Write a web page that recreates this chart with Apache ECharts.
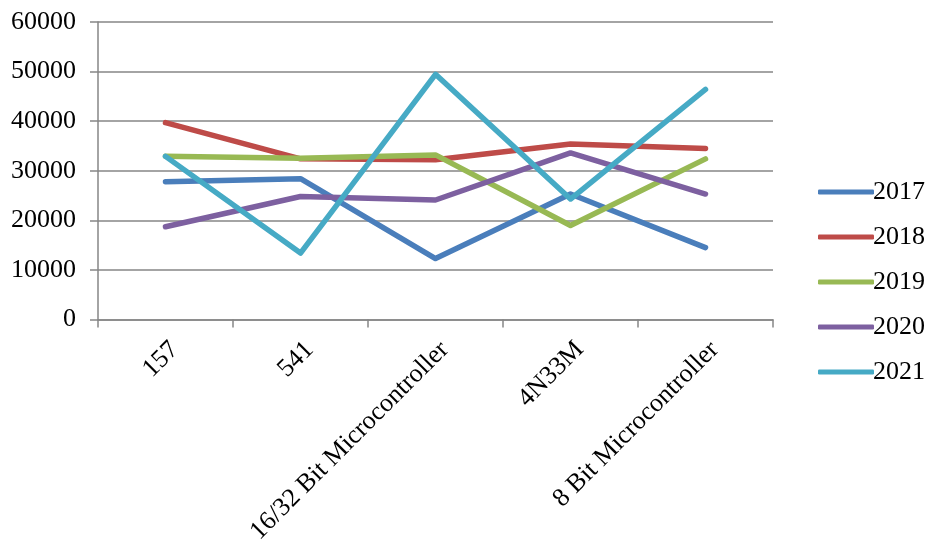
<!DOCTYPE html>
<html>
<head>
<meta charset="utf-8">
<script src="https://cdn.jsdelivr.net/npm/echarts@6/dist/echarts.min.js"></script>
<style>
  html, body { margin: 0; padding: 0; background: #fff; }
  #chart { width: 929px; height: 547px; }
</style>
</head>
<body>
<div id="chart"></div>
<script>
// Product categories along the x axis
const categories = ['157', '541', '16/32 Bit Microcontroller', '4N33M', '8 Bit Microcontroller'];

// Yearly values per category
const years = ['2017', '2018', '2019', '2020', '2021'];
const values2017 = [27800, 28400, 12300, 25300, 14500];
const values2018 = [39700, 32400, 32200, 35400, 34500];
const values2019 = [32900, 32500, 33200, 18950, 32400];
const values2020 = [18700, 24800, 24100, 33600, 25300];
const values2021 = [32900, 13400, 49450, 24300, 46400];

const seriesValues = [values2017, values2018, values2019, values2020, values2021];
const colors = ['#4A7EBB', '#BE4B48', '#98B954', '#7D60A0', '#46AAC5'];

const font = '"Liberation Serif", "Times New Roman", serif';
const fontSize = 26;
const axisGrey = '#868686';

const chart = echarts.init(document.getElementById('chart'), null, { renderer: 'canvas' });

chart.setOption({
  animation: false,
  backgroundColor: '#ffffff',
  color: colors,
  grid: { left: 98, right: 156, top: 22, bottom: 227.5, containLabel: false },
  legend: {
    orient: 'vertical',
    left: 813,
    top: 174,
    icon: 'roundRect',
    itemWidth: 56,
    itemHeight: 5,
    itemGap: 19,
    data: years,
    textStyle: { fontFamily: font, fontSize: fontSize, color: '#000', padding: [0, 0, 0, -6] }
  },
  xAxis: {
    type: 'category',
    data: categories,
    boundaryGap: true,
    axisLine: { lineStyle: { color: axisGrey, width: 1.5 } },
    axisTick: { show: true, length: 8, alignWithLabel: false, lineStyle: { color: axisGrey, width: 1.5 } },
    axisLabel: {
      interval: 0,
      rotate: 45,
      margin: 17,
      verticalAlign: 'top',
      fontFamily: font,
      fontSize: fontSize,
      color: '#000'
    },
    splitLine: { show: false }
  },
  yAxis: {
    type: 'value',
    min: 0,
    max: 60000,
    interval: 10000,
    axisLine: { show: true, lineStyle: { color: axisGrey, width: 1.5 } },
    axisTick: { show: true, length: 8, lineStyle: { color: axisGrey, width: 1.5 } },
    axisLabel: {
      margin: 22,
      fontFamily: font,
      fontSize: fontSize,
      color: '#000',
      formatter: (v) => String(v)
    },
    splitLine: { show: true, lineStyle: { color: axisGrey, width: 1.5 } }
  },
  series: years.map((name, i) => ({
    name: name,
    type: 'line',
    data: seriesValues[i],
    symbol: 'none',
    lineStyle: { width: 5.5, color: colors[i], cap: 'round', join: 'round' },
    itemStyle: { color: colors[i] }
  }))
});
</script>
</body>
</html>
